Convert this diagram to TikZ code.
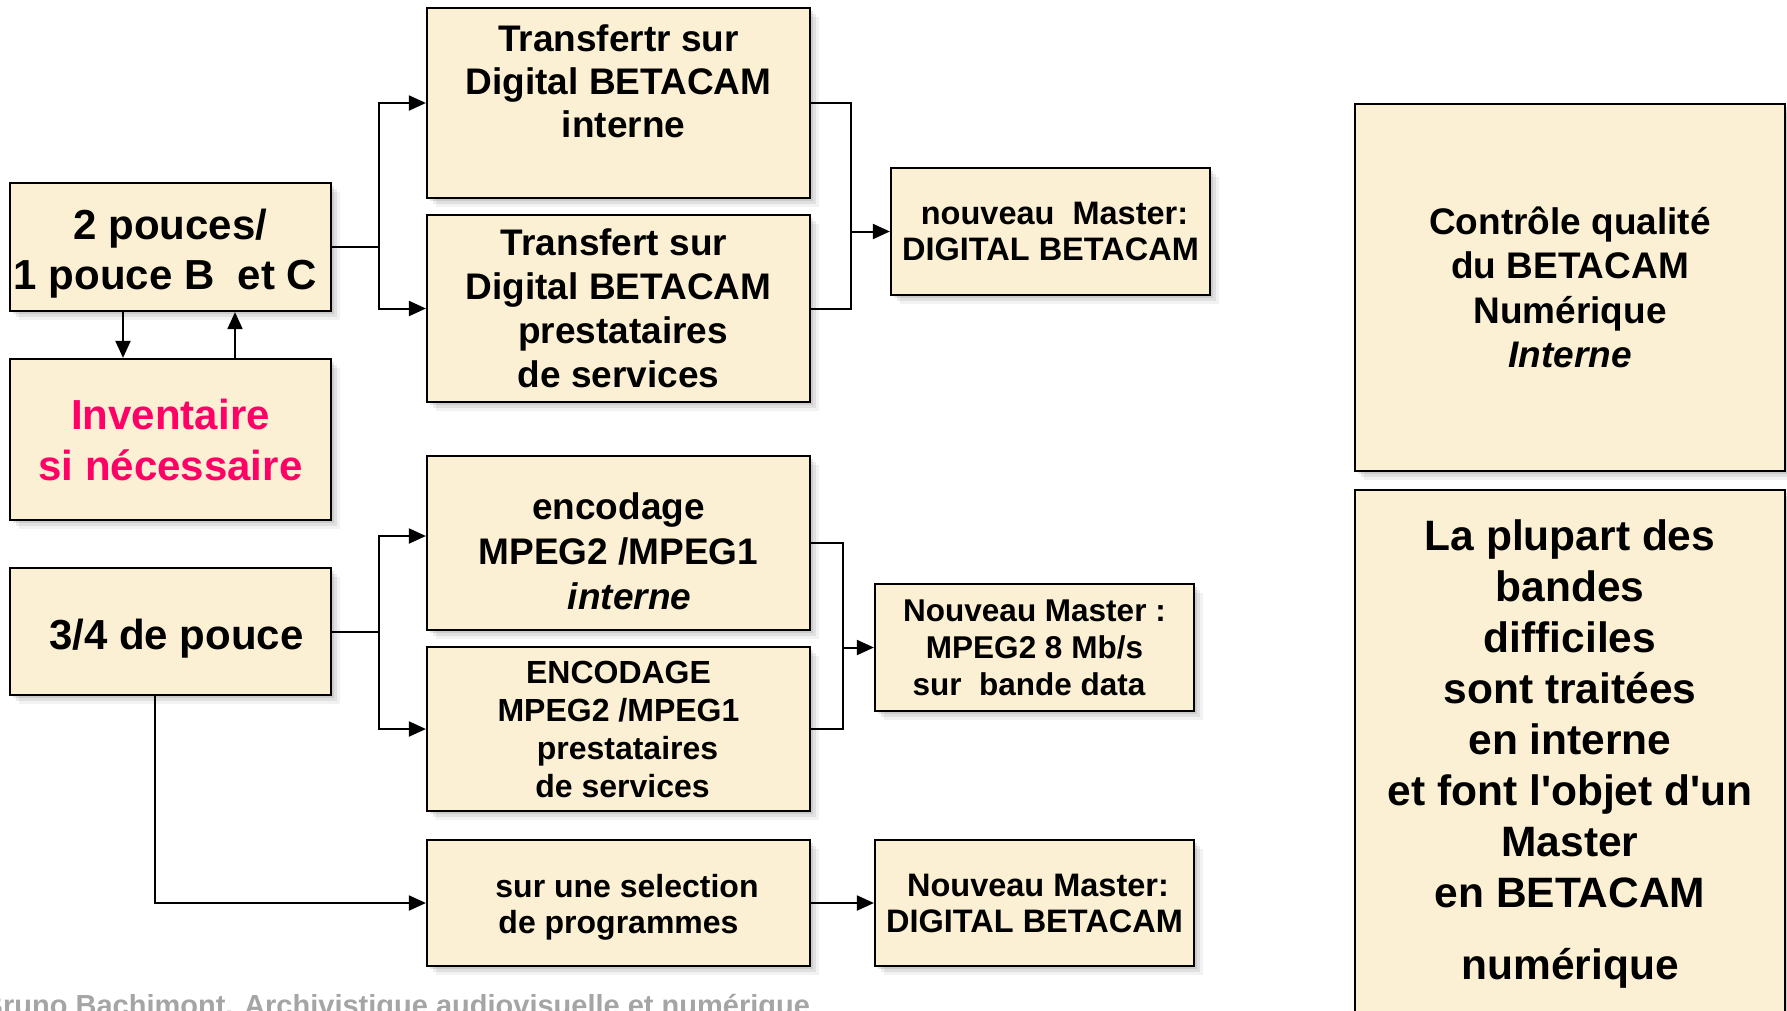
\documentclass[tikz,border=0pt]{standalone}
\usepackage{fontspec}
\setmainfont{Liberation Sans}
\newfontfamily\basefont{Liberation Sans}
\usetikzlibrary{arrows.meta,shadows}
\definecolor{parch}{RGB}{252,240,212}
\definecolor{pinkred}{RGB}{255,0,102}
\definecolor{footgray}{RGB}{165,165,165}
\newcommand\fsz[2]{\fontsize{#1pt}{#2pt}\selectfont}
\newcommand\lsh[1]{\hspace*{#1}}
\begin{document}
\begin{tikzpicture}[x=1pt,y=-1pt,
  softshadow/.style={
    drop shadow={shadow xshift=3pt,shadow yshift=-3pt,opacity=.09,fill=black},
    drop shadow={shadow xshift=6pt,shadow yshift=-6pt,opacity=.07,fill=black},
    drop shadow={shadow xshift=9pt,shadow yshift=-9pt,opacity=.05,fill=black}},
  box/.style={draw=black, line width=2.2pt, fill=parch, align=center, inner sep=0pt, softshadow},
  conn/.style={line width=2pt, draw=black},
  arr/.style={conn, -{Triangle[length=17pt,width=15pt]}}]
\useasboundingbox (0,0) rectangle (1787,1010);
\fill[white] (0,0) rectangle (1787,1010);

% left column
\node[box, minimum width=321pt, minimum height=128pt, font=\basefont\bfseries\fsz{42}{50}] (A) at (170.5,247) {\mbox{}\\[-7pt]2 pouces/\\1 pouce B\ \ et C\lsh{10pt}};
\node[box, minimum width=321pt, minimum height=161pt, text=pinkred, font=\basefont\bfseries\fsz{42}{51}] (Inv) at (170.5,439.5) {Inventaire\\si nécessaire};
\node[box, minimum width=321pt, minimum height=127pt, font=\basefont\bfseries\fsz{42}{50}] (B34) at (170.5,631.5) {\mbox{}\\[-5pt]\lsh{12pt}3/4 de pouce};

% middle column
\node[box, minimum width=383pt, minimum height=190pt, font=\basefont\bfseries\fsz{37}{43}] (T1) at (618.5,103) {Transfertr sur\\Digital BETACAM\\\lsh{10pt}interne\\[0pt]\mbox{}};
\node[box, minimum width=383pt, minimum height=187pt, font=\basefont\bfseries\fsz{37}{44}] (T2) at (618.5,308.5) {Transfert sur\lsh{9pt}\\Digital BETACAM\\\lsh{9pt}prestataires\\de services};
\node[box, minimum width=383pt, minimum height=174pt, font=\basefont\bfseries\fsz{37}{45}] (E1) at (618.5,543) {\mbox{}\\[-2pt]encodage\\MPEG2 /MPEG1\lsh{10pt}\\\lsh{22pt}\textit{interne}};
\node[box, minimum width=383pt, minimum height=164pt, font=\basefont\bfseries\fsz{32}{38}] (E2) at (618.5,729) {ENCODAGE\\MPEG2 /MPEG1\lsh{8pt}\\\lsh{18pt}prestataires\\\lsh{8pt}de services};
\node[box, minimum width=383pt, minimum height=126pt, font=\basefont\bfseries\fsz{32}{36}] (S) at (618.5,903) {\mbox{}\\[-4pt]\lsh{17pt}sur une selection\\de programmes};

% masters
\node[box, minimum width=319pt, minimum height=127pt, font=\basefont\bfseries\fsz{32.5}{36}] (M1) at (1050.5,231.5) {\lsh{8pt}nouveau\ \ Master:\\DIGITAL BETACAM};
\node[box, minimum width=319pt, minimum height=127pt, font=\basefont\bfseries\fsz{31.5}{37}] (M2) at (1034.5,647.5) {Nouveau Master :\\MPEG2 8 Mb/s\\sur\ \ bande data\lsh{11pt}};
\node[box, minimum width=319pt, minimum height=126pt, font=\basefont\bfseries\fsz{32.5}{36}] (M3) at (1034.5,903) {\lsh{7pt}Nouveau Master:\\DIGITAL BETACAM};

% right column
\node[box, minimum width=430pt, minimum height=367pt, font=\basefont\bfseries\fsz{37}{44.5}] (R1) at (1570,287.5) {Contrôle qualité\\du BETACAM\\Numérique\\\textit{Interne}};
\node[box, minimum width=430pt, minimum height=528pt, font=\basefont\bfseries\fsz{42.5}{51}] (R2) at (1570,754) {La plupart des\\bandes\\difficiles\\sont traitées\\en interne\\et font l'objet d'un\\Master\\en BETACAM\\[21pt]numérique};

% footer
\node[anchor=base west, inner sep=0pt, text=footgray, font=\basefont\bfseries\fsz{29}{34}] (foot) at (-18,1015) {Bruno Bachimont. Archivistique audiovisuelle et numérique};

% connectors, top group
\coordinate (b1) at (379,247);
\draw[conn] (A.east) -- (b1);
\draw[arr] (b1) |- (T1.west);
\draw[arr] (b1) |- (T2.west);
\coordinate (j1) at (851,231.5);
\draw[conn] (T1.east) -| (j1);
\draw[conn] (T2.east) -| (j1);
\draw[arr] (j1) -- (M1.west);

% A <-> Inventaire
\draw[arr] ([xshift=-47.5pt]A.south) -- ([xshift=-47.5pt]Inv.north);
\draw[arr] ([xshift=64.5pt]Inv.north) -- ([xshift=64.5pt]A.south);

% connectors, bottom group
\coordinate (b2) at (379,631.5);
\draw[conn] (B34.east) -- (b2);
\draw[arr] (b2) |- ([yshift=7pt]E1.west);
\draw[arr] (b2) |- (E2.west);
\coordinate (j2) at (843,647.5);
\draw[conn] (E1.east) -| (j2);
\draw[conn] (E2.east) -| (j2);
\draw[arr] (j2) -- (M2.west);
\draw[arr] ([xshift=-15.5pt]B34.south) |- (S.west);
\draw[arr] (S.east) -- (M3.west);
\end{tikzpicture}
\end{document}
